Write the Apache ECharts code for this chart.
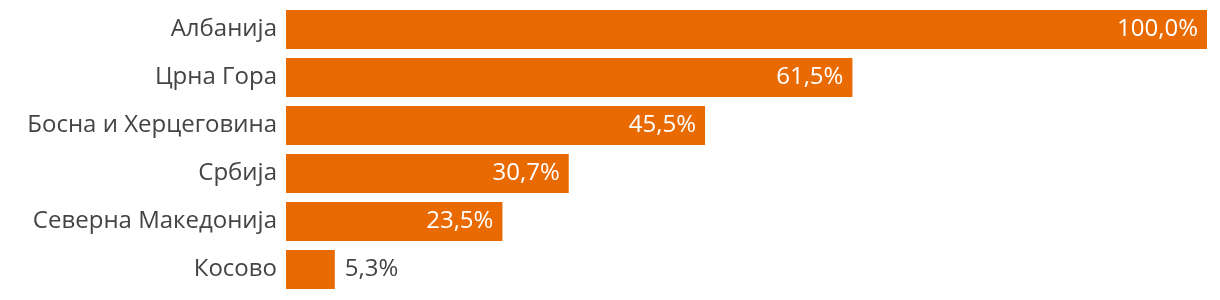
<!DOCTYPE html>
<html><head><meta charset="utf-8">
<script src="https://cdn.jsdelivr.net/npm/echarts@6/dist/echarts.min.js"></script>
<style>html,body{margin:0;padding:0;background:#fff}#c{width:1220px;height:300px}</style>
</head><body><div id="c"></div>
<script>
const categories = ['Албанија','Црна Гора','Босна и Херцеговина','Србија','Северна Македонија','Косово'];
const values = [100.0, 61.5, 45.5, 30.7, 23.5, 5.3];
const insideThreshold = 10;

const chart = echarts.init(document.getElementById('c'), null, {renderer:'canvas'});
const fmt = v => v.toFixed(1).replace('.', ',') + '%';
chart.setOption({
  animation:false,
  grid:{left:286, right:13, top:5.5, bottom:6.5, containLabel:false},
  xAxis:{type:'value', min:0, max:100, show:false},
  yAxis:{type:'category', data:categories, inverse:true,
    axisLine:{show:false}, axisTick:{show:false}, splitLine:{show:false},
    axisLabel:{color:'#444', fontSize:24, fontFamily:'Open Sans', margin:9}},
  series:[{type:'bar', barWidth:39,
    data: values.map(v => ({value:v,
      label: v >= insideThreshold
        ? {position:'insideRight', color:'#fff', distance:9}
        : {position:'right', color:'#444', distance:10}})),
    itemStyle:{color:'#E86A00'},
    label:{show:true, fontSize:24, fontFamily:'Open Sans', formatter:p => fmt(p.value)}
  }]
});
</script></body></html>
